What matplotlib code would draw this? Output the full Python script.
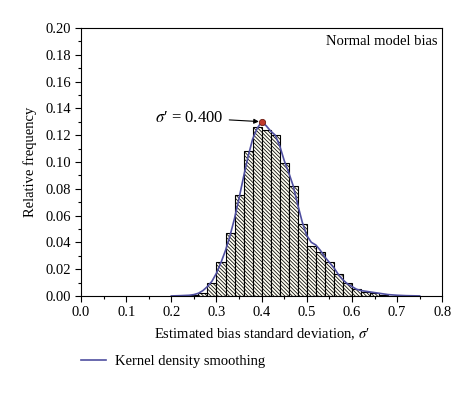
import numpy as np
import matplotlib
matplotlib.use('Agg')
import matplotlib.pyplot as plt
from matplotlib.ticker import MultipleLocator

# histogram, bins of width 0.02 (left edges)
bin_left = [0.24, 0.26, 0.28, 0.30, 0.32, 0.34, 0.36, 0.38, 0.40, 0.42, 0.44,
            0.46, 0.48, 0.50, 0.52, 0.54, 0.56, 0.58, 0.60, 0.62, 0.64, 0.66]
rel_freq = [0.0005, 0.002, 0.0095, 0.025, 0.047, 0.075, 0.108, 0.126, 0.124,
            0.120, 0.099, 0.082, 0.054, 0.037, 0.033, 0.025, 0.016, 0.0095,
            0.005, 0.003, 0.0025, 0.001]

# kernel density curve
kde_x = [0.20, 0.22, 0.24, 0.25, 0.26, 0.27, 0.28, 0.29, 0.30, 0.31, 0.32,
         0.33, 0.34, 0.35, 0.36, 0.37, 0.38, 0.39, 0.40, 0.41, 0.42, 0.43,
         0.44, 0.45, 0.46, 0.47, 0.48, 0.49, 0.50, 0.51, 0.52, 0.53, 0.54,
         0.55, 0.56, 0.57, 0.58, 0.59, 0.60, 0.61, 0.62, 0.63, 0.64, 0.65,
         0.66, 0.67, 0.68, 0.70, 0.72, 0.75]
kde_y = [0.0, 0.0002, 0.0005, 0.001, 0.002, 0.004, 0.007, 0.011, 0.017, 0.025,
         0.034, 0.045, 0.058, 0.073, 0.089, 0.104, 0.117, 0.125, 0.130, 0.127,
         0.123, 0.120, 0.112, 0.101, 0.092, 0.082, 0.068, 0.055, 0.045, 0.040,
         0.038, 0.034, 0.029, 0.025, 0.021, 0.016, 0.012, 0.009, 0.007, 0.005,
         0.004, 0.0035, 0.003, 0.0025, 0.002, 0.0015, 0.001, 0.0005, 0.0002, 0.0]

peak_x = 0.400
peak_y = 0.130

plt.rcParams['font.family'] = ['Liberation Serif', 'DejaVu Serif']
plt.rcParams['mathtext.fontset'] = 'stix'
plt.rcParams['hatch.linewidth'] = 0.55

fig = plt.figure(figsize=(4.74, 3.93), dpi=100)
ax = fig.add_axes([0.171, 0.247, 0.762, 0.682])

ax.bar(bin_left, rel_freq, width=0.02, align='edge', facecolor='#fffef2',
       edgecolor='black', linewidth=0.8, hatch='\\' * 9)
line, = ax.plot(kde_x, kde_y, color='#4f4fa0', lw=1.2,
                label='Kernel density smoothing')
ax.plot(peak_x, peak_y, 'o', ms=4.5, mfc='#c0392b', mec='#6b1a10', mew=0.6, zorder=5)

ax.annotate("$\\sigma$\u2032 = 0.400", xy=(peak_x, peak_y), xytext=(0.316, 0.133),
            ha='right', va='center', fontsize=12,
            arrowprops=dict(arrowstyle='-|>', color='black', lw=0.8,
                            mutation_scale=7, shrinkA=2, shrinkB=2))

ax.text(0.988, 0.95, 'Normal model bias', transform=ax.transAxes,
        ha='right', va='center', fontsize=10.5)

ax.set_xlim(0, 0.8)
ax.set_ylim(0, 0.2)
ax.xaxis.set_major_locator(MultipleLocator(0.1))
ax.xaxis.set_minor_locator(MultipleLocator(0.05))
ax.yaxis.set_major_locator(MultipleLocator(0.02))
ax.yaxis.set_minor_locator(MultipleLocator(0.01))
ax.xaxis.set_major_formatter(plt.FuncFormatter(lambda v, p: '%.1f' % v))
ax.yaxis.set_major_formatter(plt.FuncFormatter(lambda v, p: '%.2f' % v))
ax.tick_params(which='both', direction='out', labelsize=10.5, width=0.8)
ax.tick_params(which='major', length=4)
ax.tick_params(which='minor', length=2.5)
for s in ax.spines.values():
    s.set_linewidth(0.8)

ax.set_xlabel("Estimated bias standard deviation, $\\sigma$\u2032", fontsize=10.5, labelpad=5)
ax.set_ylabel('Relative frequency', fontsize=10.5, labelpad=6)

fig.legend(handles=[line], loc='center left', bbox_to_anchor=(0.171, 0.08),
           frameon=False, fontsize=10.5, handlelength=1.7, handletextpad=0.65,
           borderpad=0, borderaxespad=0)

fig.savefig('out.png', dpi=100)
